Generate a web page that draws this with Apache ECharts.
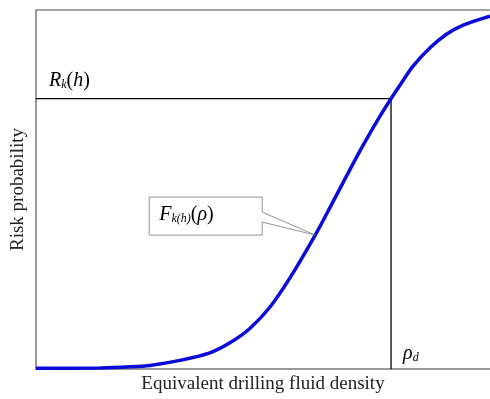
<!DOCTYPE html>
<html>
<head>
<meta charset="utf-8">
<script src="https://cdn.jsdelivr.net/npm/echarts@6/dist/echarts.min.js"></script>
<style>
  html, body { margin: 0; padding: 0; background: #fff; }
  #main { width: 490px; height: 399px; }
</style>
</head>
<body>
<div id="main"></div>
<script>
// curve (x: 0-100 along density axis, y: probability 0-1)
var densityX = [0, 14.1, 20.7, 25.1, 31.7, 38.3, 42.7, 47.1, 51.5, 55.9, 61.5, 64.8, 68.5, 72.0, 75.8, 78.2, 80.2, 83.0, 86.8, 90.5, 94.1, 100];
var riskY    = [0.002, 0.003, 0.006, 0.010, 0.024, 0.045, 0.073, 0.113, 0.172, 0.253, 0.373, 0.451, 0.540, 0.622, 0.705, 0.753, 0.791, 0.843, 0.895, 0.933, 0.958, 0.983];
var rhoD = 78.2;        // design density
var riskAtRhoD = 0.753; // R_k(h)
var calloutIdx = 10;    // point the F label points at

var serif = '"Liberation Serif", "Times New Roman", serif';
var curve = densityX.map(function (x, i) { return [x, riskY[i]]; });

var myChart = echarts.init(document.getElementById('main'));
myChart.setOption({
  animation: false,
  grid: { left: 36, top: 10, right: 0, bottom: 29 },
  xAxis: [{
    type: 'value', min: 0, max: 100,
    name: 'Equivalent drilling fluid density',
    nameLocation: 'middle', nameGap: 6,
    nameTextStyle: { fontFamily: serif, fontSize: 19, color: '#222', verticalAlign: 'top' },
    axisLine: { lineStyle: { color: '#777', width: 1.5 } },
    axisTick: { show: false }, axisLabel: { show: false }, splitLine: { show: false }
  }, {
    type: 'value', min: 0, max: 100, position: 'top',
    axisLine: { show: true, lineStyle: { color: '#888', width: 1.5 } },
    axisTick: { show: false }, axisLabel: { show: false }, splitLine: { show: false }
  }],
  yAxis: {
    type: 'value', min: 0, max: 1,
    name: 'Risk probability',
    nameLocation: 'middle', nameGap: 8,
    nameTextStyle: { fontFamily: serif, fontSize: 19, color: '#222' },
    axisLine: { show: true, lineStyle: { color: '#777', width: 1.5 } },
    axisTick: { show: false }, axisLabel: { show: false }, splitLine: { show: false }
  },
  series: [{
    type: 'line',
    data: [[0, riskAtRhoD], [rhoD, riskAtRhoD], [rhoD, 0]],
    symbol: 'none',
    lineStyle: { color: '#000', width: 1.3 },
    z: 2
  }, {
    type: 'line',
    data: curve,
    smooth: 0.3,
    symbol: 'none',
    lineStyle: { color: '#0c0cd8', width: 3.5 },
    z: 3
  }]
});

// annotations placed from data coordinates
var pR = myChart.convertToPixel({ gridIndex: 0 }, [0, riskAtRhoD]);
var pD = myChart.convertToPixel({ gridIndex: 0 }, [rhoD, 0]);
var tip = myChart.convertToPixel({ gridIndex: 0 }, curve[calloutIdx]);
var bx0 = tip[0] - 166, bx1 = tip[0] - 53, by0 = tip[1] - 38, by1 = tip[1];

var rich = {
  i: { fontFamily: serif, fontStyle: 'italic', fontSize: 20, color: '#111' },
  n: { fontFamily: serif, fontSize: 20, color: '#111' },
  s: { fontFamily: serif, fontStyle: 'italic', fontSize: 12, color: '#111', padding: [8, 0, 0, 0] }
};

myChart.setOption({
  graphic: [{
    type: 'text', left: pR[0] + 13, top: pR[1] - 28,
    style: { text: '{i|R}{s|k}{n|(}{i|h}{n|)}', rich: rich }
  }, {
    type: 'text', left: pD[0] + 12, top: pD[1] - 25,
    style: { text: '{i|ρ}{s|d}', rich: rich }
  }, {
    type: 'polygon', z: 10,
    shape: { points: [[bx0, by0], [bx1, by0], [bx1, by0 + 15], tip, [bx1, by0 + 25], [bx1, by1], [bx0, by1]] },
    style: { fill: '#fff', stroke: '#777', lineWidth: 0.8 }
  }, {
    type: 'text', z: 11, left: bx0 + 10, top: by0 + 8,
    style: { text: '{i|F}{s|k(h)}{n|(}{i|ρ}{n|)}', rich: rich }
  }]
});
</script>
</body>
</html>
